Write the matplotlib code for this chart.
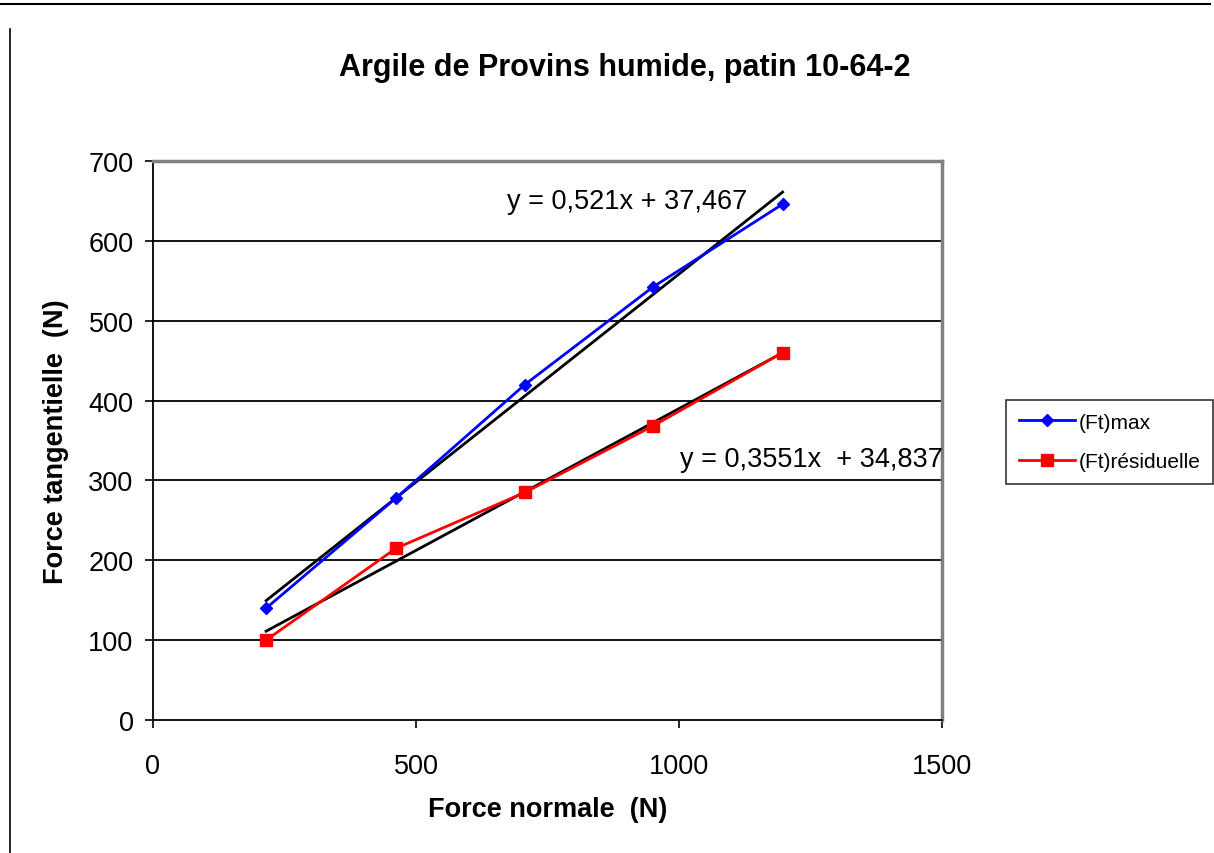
import matplotlib
matplotlib.use("Agg")
import matplotlib.pyplot as plt
from matplotlib.lines import Line2D

plt.rcParams["font.family"] = ["Liberation Sans", "DejaVu Sans"]

# data
force_normale = [215, 462, 707, 950, 1197]
ft_max = [140, 278, 420, 542, 646]
ft_residuelle = [100, 215, 285, 368, 460]

# Excel linear trend lines
pente_max, orig_max = 0.521, 37.467
pente_res, orig_res = 0.3551, 34.837

x_ticks = [0, 500, 1000, 1500]
y_ticks = [0, 100, 200, 300, 400, 500, 600, 700]

fig = plt.figure(figsize=(12.14, 8.54), dpi=100)
ax = fig.add_axes([153 / 1214, 1 - 721 / 854, (942 - 153) / 1214, (721 - 162) / 854])

for y in y_ticks[1:]:
    ax.axhline(y, color="black", lw=1.3, zorder=1)

ax.plot(force_normale, ft_max, color="#0000ff", lw=2, marker="D", ms=6, zorder=3, label="(Ft)max")
ax.plot(force_normale, ft_residuelle, color="#ff0000", lw=2, marker="s", ms=9, zorder=3, label="(Ft)résiduelle")

x0, x1 = force_normale[0], force_normale[-1]
ax.plot([x0, x1], [pente_max * x0 + orig_max, pente_max * x1 + orig_max], color="black", lw=2, zorder=2)
ax.plot([x0, x1], [pente_res * x0 + orig_res, pente_res * x1 + orig_res], color="black", lw=2, zorder=2)

fig.text(507 / 1214, 1 - 202 / 854, "y = 0,521x + 37,467", fontsize=19.5, va="center", ha="left")
fig.text(680 / 1214, 1 - 460 / 854, "y = 0,3551x  + 34,837", fontsize=19.5, va="center", ha="left")

ax.set_xlim(0, 1500)
ax.set_ylim(0, 700)
ax.set_xticks(x_ticks)
ax.set_yticks(y_ticks)
ax.tick_params(axis="both", labelsize=19.5, direction="out", length=6, width=1.2)
ax.tick_params(axis="x", pad=18)
ax.tick_params(axis="y", pad=8)

for side in ["top", "right"]:
    ax.spines[side].set_color("#808080")
    ax.spines[side].set_linewidth(2.5)
for side in ["left", "bottom"]:
    ax.spines[side].set_color("black")
    ax.spines[side].set_linewidth(1.3)

ax.set_xlabel("Force normale  (N)", fontsize=19.5, fontweight="bold", labelpad=12)
ax.set_ylabel("Force tangentielle  (N)", fontsize=19.5, fontweight="bold", labelpad=14)
fig.text(625 / 1214, 1 - 68 / 854, "Argile de Provins humide, patin 10-64-2",
         fontsize=22, fontweight="bold", ha="center", va="center")

leg = ax.legend(loc="center left", bbox_to_anchor=(1006 / 1214, 1 - 443 / 854),
                bbox_transform=fig.transFigure, fontsize=15, frameon=True, fancybox=False,
                handlelength=2.7, borderpad=0.6, labelspacing=1.0, handletextpad=0.2,
                borderaxespad=0)
leg.get_frame().set_edgecolor("black")
leg.get_frame().set_linewidth(1.2)

# page frame lines
fig.add_artist(Line2D([0, 1210 / 1214], [1 - 5 / 854, 1 - 5 / 854], color="black", lw=1.5))
fig.add_artist(Line2D([10 / 1214, 10 / 1214], [0, 1 - 30 / 854], color="black", lw=1.2))

fig.savefig("out.png", dpi=100)
